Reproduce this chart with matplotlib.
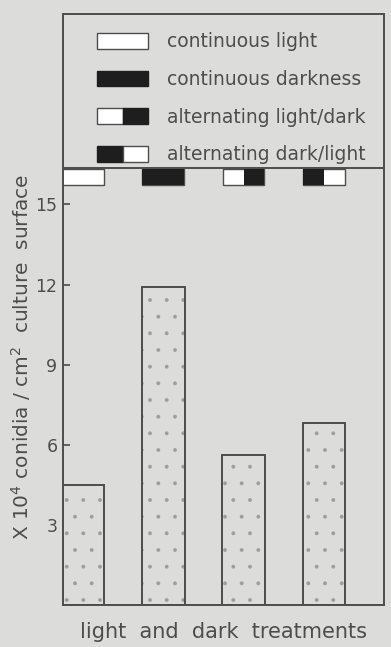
import matplotlib.pyplot as plt
from matplotlib.patches import Patch
from matplotlib.legend_handler import HandlerTuple

plt.rcParams["hatch.linewidth"] = 0.3

# conidia per cm2 culture surface (x 10^4)
treatments = ["continuous light", "continuous darkness",
              "alternating light/dark", "alternating dark/light"]
conidia = [4.5, 11.9, 5.6, 6.8]
# which half of each treatment icon is dark: 0 none, 1 left, 2 right, 3 both
dark_half = [0, 3, 2, 1]
yticks = [3, 6, 9, 12, 15]

bg = "#dcdcda"
ink = "#4d4d4d"
dark = "#1e1e1e"

fig = plt.figure(figsize=(3.91, 6.47), dpi=100, facecolor=bg)
ax = fig.add_axes([63 / 391, 1 - 605 / 647, 321 / 391, 591 / 647], facecolor=bg)

x = list(range(len(conidia)))
# stippled fill, then outline
ax.bar(x, conidia, width=0.53, color=bg, edgecolor="#9c9c9c", linewidth=0,
       hatch=".", zorder=2)
ax.bar(x, conidia, width=0.53, fill=False, edgecolor=ink, linewidth=1.4, zorder=3)

# treatment icons under the legend
top = 16.37
ax.axhline(top, color=ink, lw=1.4)
ax.bar(x, [0.6] * 4, width=0.52, bottom=top - 0.65, color="white",
       edgecolor=ink, linewidth=1.0)
for i, d in zip(x, dark_half):
    if d in (1, 3):
        ax.bar(i - 0.13, 0.6, width=0.26, bottom=top - 0.65, color=dark, linewidth=0)
    if d in (2, 3):
        ax.bar(i + 0.13, 0.6, width=0.26, bottom=top - 0.65, color=dark, linewidth=0)

ax.set_xlim(-0.25, 3.75)
ax.set_ylim(0, 22.13)
ax.set_xticks([])
ax.set_yticks(yticks)
ax.tick_params(axis="y", direction="in", length=5, width=1.2, colors=ink,
               labelsize=12.5, pad=4)
for s in ax.spines.values():
    s.set_color(ink)
    s.set_linewidth(1.4)

ax.set_xlabel("light  and  dark  treatments", fontsize=15, color=ink, labelpad=12)
ax.set_ylabel(r"X 10$^4$ conidia / cm$^2$  culture  surface", fontsize=14.5,
              color=ink)
ax.yaxis.set_label_coords(-0.095, 0.42)

white = Patch(facecolor="white", edgecolor=ink, linewidth=1.0)
black = Patch(facecolor=dark, edgecolor=dark, linewidth=1.0)
handles = [white, black, (white, black), (black, white)]
ax.legend(handles, treatments, handler_map={tuple: HandlerTuple(ndivide=None, pad=0)},
          loc="upper left", bbox_to_anchor=(0.078, 0.985), frameon=False,
          fontsize=13.5, labelcolor=ink, handlelength=2.7, handleheight=0.9,
          labelspacing=1.0, handletextpad=1.0, borderpad=0)

fig.savefig("out.png", dpi=100, facecolor=bg)
